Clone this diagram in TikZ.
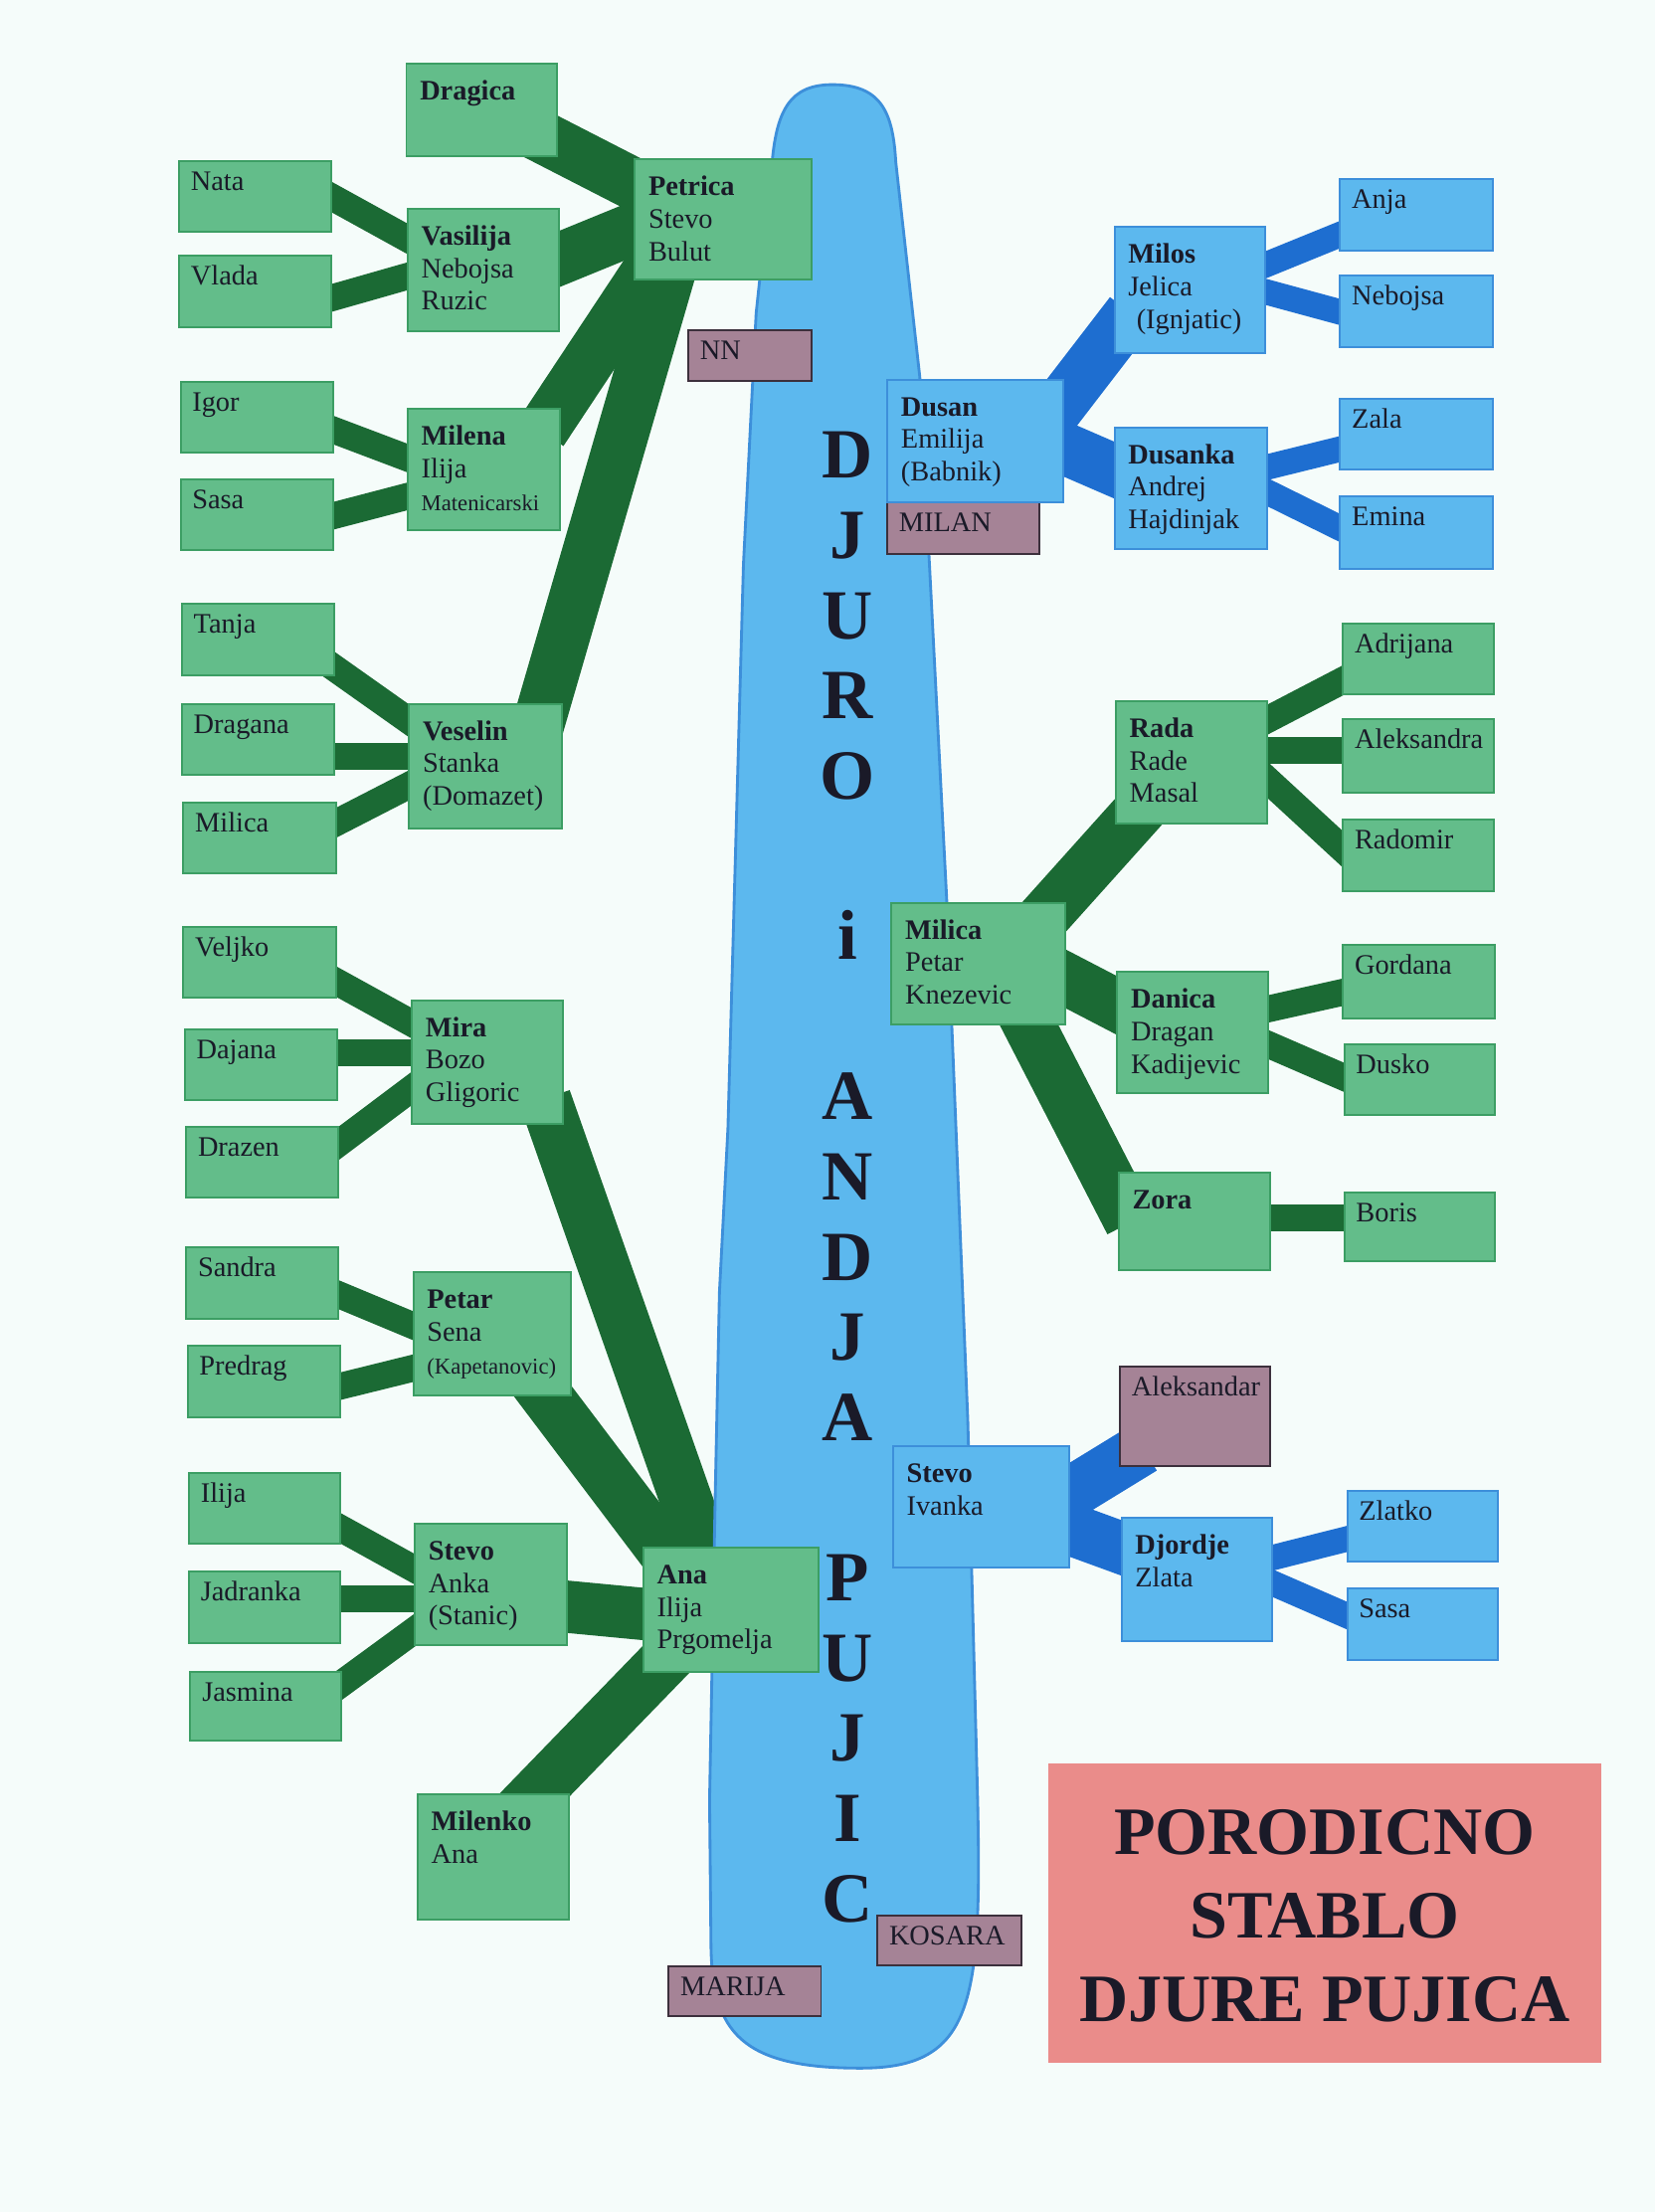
\documentclass[tikz,border=0pt]{standalone}
\usepackage{fontspec}
\setmainfont{Liberation Serif}
\usetikzlibrary{fit}
\pgfdeclarelayer{back}
\pgfdeclarelayer{mid}
\pgfdeclarelayer{blobl}
\pgfsetlayers{back,mid,blobl,main}

\definecolor{bgc}{RGB}{245,252,250}
\definecolor{gfill}{RGB}{99,189,138}
\definecolor{gdraw}{RGB}{60,158,100}
\definecolor{gband}{RGB}{27,106,52}
\definecolor{bfill}{RGB}{92,184,238}
\definecolor{bdraw}{RGB}{61,143,218}
\definecolor{bband}{RGB}{30,110,208}
\definecolor{pfill}{RGB}{165,131,150}
\definecolor{pdraw}{RGB}{60,48,60}
\definecolor{tfill}{RGB}{234,140,138}
\definecolor{ink}{RGB}{26,26,40}

\newcommand\gn[1]{{\bfseries #1}}
\newcommand\famnode[8]{%
  \node[#6, fit={(#2,#3) (#4,#5)}] (#1) {};
  \node[#7] (#1-t) at (#1.north west) {\strut #8};}
\newcommand\famband[5]{\draw[#1] ([shift={#3}]#2) -- ([shift={#5}]#4);}

\begin{document}
\begin{tikzpicture}[x=0.5pt,y=-0.5pt,
  box/.style={draw, line width=0.7pt, inner sep=0pt, rectangle},
  gbox/.style={box, fill=gfill, draw=gdraw},
  bbox/.style={box, fill=bfill, draw=bdraw},
  pbox/.style={box, fill=pfill, draw=pdraw},
  txt/.style={anchor=north west, inner sep=0pt, align=left, text=ink, font=\fontsize{10}{11.5}\selectfont},
  tc/.style={txt, xshift=4.3pt, yshift=-2.5pt},
  tp/.style={txt, xshift=5pt, yshift=-5pt},
  gl/.style={line width=9.5pt, draw=gband, shorten <=-6pt, shorten >=-6pt},
  gp/.style={line width=18.5pt, draw=gband, shorten <=-10pt, shorten >=-10pt},
  bl/.style={line width=9pt, draw=bband, shorten <=-6pt, shorten >=-6pt},
  bp/.style={line width=18.5pt, draw=bband, shorten <=-10pt, shorten >=-10pt},
  blob/.style={fill=bfill, draw=bdraw, line width=1pt},
  vlet/.style={anchor=base, inner sep=0pt, text=ink, font=\fontsize{25}{25}\selectfont\bfseries},
  ttl/.style={align=center, inner sep=0pt, text=ink, font=\fontsize{24}{29.5}\selectfont\bfseries}]
\useasboundingbox (0,0) rectangle (1173,1568);
\begin{pgfonlayer}{back}
\fill[bgc] (0,0) rectangle (1173,1568);
\end{pgfonlayer}
\begin{pgfonlayer}{blobl}
\path[blob] (590,60) .. controls (625,60) and (633,80) .. (635,115)
  -- (652,267) -- (671,636) -- (686,1006) -- (693,1276)
  .. controls (696,1420) and (690,1466) .. (610,1466)
  .. controls (525,1466) and (505,1440) .. (504,1380)
  -- (503,1276) -- (507,1060) -- (510,916) -- (516,800) -- (527,400) -- (536,222) -- (547,119)
  .. controls (550,78) and (560,60) .. (590,60) -- cycle;
\end{pgfonlayer}

% left children
\famnode{nata}{127}{114}{235}{164}{gbox}{tc}{Nata}
\famnode{vlada}{127}{181}{235}{232}{gbox}{tc}{Vlada}
\famnode{igor}{128}{271}{236}{321}{gbox}{tc}{Igor}
\famnode{sasa}{128}{340}{236}{390}{gbox}{tc}{Sasa}
\famnode{tanja}{129}{428}{237}{479}{gbox}{tc}{Tanja}
\famnode{dragana}{129}{499}{237}{549}{gbox}{tc}{Dragana}
\famnode{milicaL}{130}{569}{238}{619}{gbox}{tc}{Milica}
\famnode{veljko}{130}{657}{238}{707}{gbox}{tc}{Veljko}
\famnode{dajana}{131}{730}{239}{780}{gbox}{tc}{Dajana}
\famnode{drazen}{132}{799}{240}{849}{gbox}{tc}{Drazen}
\famnode{sandra}{132}{884}{240}{935}{gbox}{tc}{Sandra}
\famnode{predrag}{133}{954}{241}{1005}{gbox}{tc}{Predrag}
\famnode{ilija}{134}{1044}{241}{1094}{gbox}{tc}{Ilija}
\famnode{jadranka}{134}{1114}{241}{1165}{gbox}{tc}{Jadranka}
\famnode{jasmina}{135}{1185}{242}{1234}{gbox}{tc}{Jasmina}

% middle column
\famnode{dragica}{288}{45}{395}{111}{gbox}{tp}{\gn{Dragica}}
\famnode{vasilija}{289}{148}{396}{235}{gbox}{tp}{\gn{Vasilija}\\Nebojsa\\Ruzic}
\famnode{milena}{289}{290}{397}{376}{gbox}{tp}{\gn{Milena}\\Ilija\\{\fontsize{8}{9}\selectfont Matenicarski}}
\famnode{veselin}{290}{499}{398}{587}{gbox}{tp}{\gn{Veselin}\\Stanka\\(Domazet)}
\famnode{mira}{292}{709}{399}{797}{gbox}{tp}{\gn{Mira}\\Bozo\\Gligoric}
\famnode{petar}{293}{902}{405}{989}{gbox}{tp}{\gn{Petar}\\Sena\\{\fontsize{8}{9}\selectfont (Kapetanovic)}}
\famnode{stevoL}{294}{1080}{402}{1166}{gbox}{tp}{\gn{Stevo}\\Anka\\(Stanic)}
\famnode{milenko}{296}{1272}{403}{1361}{gbox}{tp}{\gn{Milenko}\\Ana}
\famnode{petrica}{450}{113}{575}{198}{gbox}{tp}{\gn{Petrica}\\Stevo\\Bulut}
\famnode{ana}{456}{1097}{580}{1185}{gbox}{tp}{\gn{Ana}\\Ilija\\Prgomelja}

% purple
\famnode{nn}{488}{234}{575}{270}{pbox}{tc}{NN}
\famnode{milan}{629}{356}{737}{393}{pbox}{tc}{MILAN}
\famnode{marija}{474}{1394}{582}{1429}{pbox}{tc}{MARIJA}
\famnode{kosara}{622}{1358}{724}{1393}{pbox}{tc}{KOSARA}
\famnode{aleksandar}{794}{969}{900}{1039}{pbox}{tc}{Aleksandar}

% right blue
\famnode{dusan}{629}{269}{754}{356}{bbox}{tp}{\gn{Dusan}\\Emilija\\(Babnik)}
\famnode{milos}{790}{161}{897}{250}{bbox}{tp}{\gn{Milos}\\Jelica\\\hspace{0.3em}(Ignjatic)}
\famnode{dusanka}{790}{303}{898}{389}{bbox}{tp}{\gn{Dusanka}\\Andrej\\Hajdinjak}
\famnode{anja}{950}{127}{1058}{178}{bbox}{tc}{Anja}
\famnode{nebojsa}{950}{195}{1058}{246}{bbox}{tc}{Nebojsa}
\famnode{zala}{950}{283}{1058}{333}{bbox}{tc}{Zala}
\famnode{emina}{950}{352}{1058}{403}{bbox}{tc}{Emina}
\famnode{stevoR}{633}{1025}{758}{1111}{bbox}{tp}{\gn{Stevo}\\Ivanka}
\famnode{djordje}{795}{1076}{902}{1163}{bbox}{tp}{\gn{Djordje}\\Zlata}
\famnode{zlatko}{955}{1057}{1062}{1107}{bbox}{tc}{Zlatko}
\famnode{sasaR}{955}{1126}{1062}{1177}{bbox}{tc}{Sasa}

% right green
\famnode{milicaR}{632}{640}{755}{726}{gbox}{tp}{\gn{Milica}\\Petar\\Knezevic}
\famnode{rada}{791}{497}{898}{584}{gbox}{tp}{\gn{Rada}\\Rade\\Masal}
\famnode{danica}{792}{689}{899}{775}{gbox}{tp}{\gn{Danica}\\Dragan\\Kadijevic}
\famnode{zora}{793}{831}{900}{900}{gbox}{tp}{\gn{Zora}}
\famnode{adrijana}{952}{442}{1059}{492}{gbox}{tc}{Adrijana}
\famnode{aleksandra}{952}{510}{1059}{562}{gbox}{tc}{Aleksandra}
\famnode{radomir}{952}{581}{1059}{632}{gbox}{tc}{Radomir}
\famnode{gordana}{952}{670}{1060}{722}{gbox}{tc}{Gordana}
\famnode{dusko}{953}{740}{1060}{790}{gbox}{tc}{Dusko}
\famnode{boris}{953}{845}{1060}{894}{gbox}{tc}{Boris}

% title
\node[fill=tfill, inner sep=0pt, fit={(743,1250) (1135,1462)}] (title) {};
\node[ttl] (title-t) at ([yshift=-1pt]title.center) {PORODICNO\\STABLO\\DJURE PUJICA};

% vertical letters
\foreach \l [count=\k from 0] in {D,J,U,R,O,{},i,{},A,N,D,J,A,{},P,U,J,I,C}
  \node[vlet] (vl\k) at (601,{339+56.85*\k}) {\l};

\begin{pgfonlayer}{mid}
% green child links
\famband{gl}{nata.east}{(0,1)}{vasilija.west}{(0,-22.5)}
\famband{gl}{vlada.east}{(0,4.5)}{vasilija.west}{(0,4.5)}
\famband{gl}{igor.east}{(0,9)}{milena.west}{(0,-8.5)}
\famband{gl}{sasa.east}{(0,0.5)}{milena.west}{(0,19)}
\famband{gl}{tanja.east}{(0,20.5)}{veselin.west}{(0,-32.5)}
\famband{gl}{dragana.east}{(0,12)}{veselin.west}{(0,-7)}
\famband{gl}{milicaL.east}{(0,-11)}{veselin.west}{(0,14)}
\famband{gl}{veljko.east}{(0,14)}{mira.west}{(0,-28)}
\famband{gl}{dajana.east}{(0,-8.5)}{mira.west}{(0,-6.5)}
\famband{gl}{drazen.east}{(0,-14)}{mira.west}{(0,19)}
\famband{gl}{sandra.east}{(0,8.5)}{petar.west}{(0,-6)}
\famband{gl}{predrag.east}{(0,3)}{petar.west}{(0,24.5)}
\famband{gl}{ilija.east}{(0,14.5)}{stevoL.west}{(0,-11)}
\famband{gl}{jadranka.east}{(0,-6.5)}{stevoL.west}{(0,10)}
\famband{gl}{jasmina.east}{(0,-16.5)}{stevoL.west}{(0,33)}
\famband{gl}{rada.east}{(0,-30.5)}{adrijana.west}{(0,15.6)}
\famband{gl}{rada.east}{(0,-8.5)}{aleksandra.west}{(0,-4)}
\famband{gl}{rada.east}{(0,12.5)}{radomir.west}{(0,-5)}
\famband{gl}{danica.east}{(0,-17)}{gordana.west}{(0,7.5)}
\famband{gl}{danica.east}{(0,8.7)}{dusko.west}{(0,-1.5)}
\famband{gl}{zora.east}{(0,-2)}{boris.west}{(0,-6)}
% blue child links
\famband{bl}{milos.east}{(0,-18)}{anja.west}{(0,14)}
\famband{bl}{milos.east}{(0,1.5)}{nebojsa.west}{(0,0.5)}
\famband{bl}{dusanka.east}{(0,-15)}{zala.west}{(0,10.5)}
\famband{bl}{dusanka.east}{(0,3)}{emina.west}{(0,-3.5)}
\famband{bl}{djordje.east}{(0,-15.5)}{zlatko.west}{(0,9)}
\famband{bl}{djordje.east}{(0,3)}{sasaR.west}{(0,-6.5)}
% green parent links
\famband{gp}{dragica.east}{(0,25)}{petrica.west}{(0,-25)}
\famband{gp}{vasilija.east}{(0,-8)}{petrica.west}{(0,6.5)}
\famband{gp}{milena.north}{(52,0)}{petrica.south}{(-57.5,0)}
\famband{gp}{veselin.north}{(42,0)}{petrica.south}{(-39.5,0)}
\famband{gp}{mira.south}{(47.5,0)}{ana.north}{(-20,0)}
\famband{gp}{petar.south}{(38.4,0)}{ana.north}{(-50,0)}
\famband{gp}{stevoL.east}{(0,16)}{ana.west}{(0,3)}
\famband{gp}{milenko.north}{(30.5,0)}{ana.south}{(-55,0)}
\famband{gp}{milicaR.north}{(56.2,0)}{rada.south}{(-45.8,0)}
\famband{gp}{milicaR.east}{(0,11)}{danica.west}{(0,-19.5)}
\famband{gp}{milicaR.south}{(36,0)}{zora.west}{(0,-16.8)}
% blue parent links
\famband{bp}{dusan.east}{(0,-29.75)}{milos.west}{(0,32.25)}
\famband{bp}{dusan.east}{(0,5.5)}{dusanka.west}{(0,-13)}
\famband{bp}{stevoR.east}{(0,-9.7)}{aleksandar.west}{(0,33.1)}
\famband{bp}{stevoR.east}{(0,16)}{djordje.west}{(0,-22.5)}
\end{pgfonlayer}
\end{tikzpicture}
\end{document}
